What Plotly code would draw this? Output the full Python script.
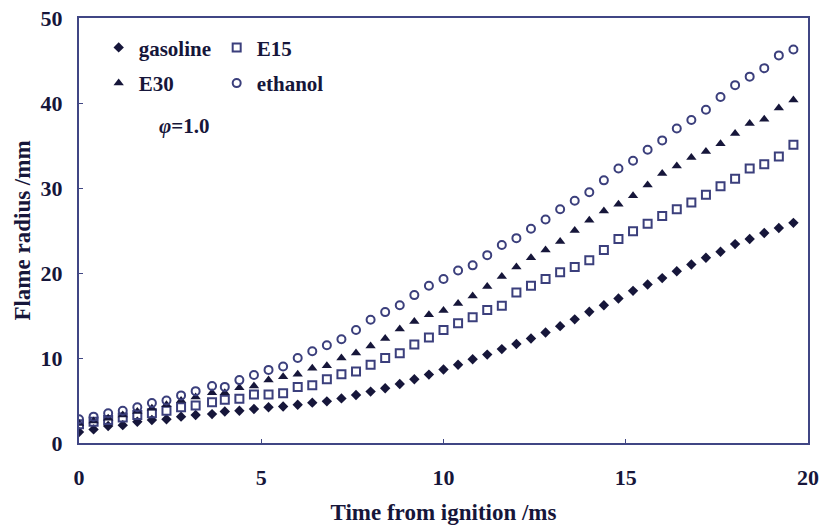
import plotly.graph_objects as go

# ---- data ----
time_ms = [0.0, 0.4, 0.8, 1.2, 1.6, 2.0, 2.4, 2.8, 3.2, 3.65,
           4.0, 4.4, 4.8, 5.2, 5.6, 6.0, 6.4, 6.8, 7.2, 7.6,
           8.0, 8.4, 8.8, 9.2, 9.6, 10.0, 10.4, 10.8, 11.2, 11.6,
           12.0, 12.4, 12.8, 13.2, 13.6, 14.0, 14.4, 14.8, 15.2, 15.6,
           16.0, 16.4, 16.8, 17.2, 17.6, 18.0, 18.4, 18.8, 19.2, 19.6]

gasoline = [1.3, 1.6, 2.0, 2.1, 2.5, 2.7, 2.8, 3.1, 3.3, 3.4,
            3.7, 3.8, 4.0, 4.2, 4.3, 4.5, 4.75, 4.9, 5.25, 5.65,
            6.05, 6.45, 6.95, 7.5, 8.05, 8.65, 9.2, 9.85, 10.4, 11.05,
            11.65, 12.3, 13.0, 13.75, 14.55, 15.45, 16.2, 17.0, 17.9, 18.65,
            19.4, 20.2, 21.0, 21.8, 22.5, 23.4, 24.0, 24.7, 25.3, 25.9]

e15 = [2.2, 2.5, 2.7, 3.0, 3.3, 3.5, 3.8, 4.2, 4.4, 4.8,
       5.1, 5.2, 5.7, 5.7, 5.85, 6.6, 6.8, 7.5, 8.1, 8.4,
       9.2, 10.0, 10.55, 11.6, 12.4, 13.3, 14.1, 14.8, 15.65, 16.15,
       17.7, 18.5, 19.3, 20.1, 20.7, 21.5, 22.7, 24.0, 24.9, 25.8,
       26.7, 27.5, 28.3, 29.2, 30.2, 31.1, 32.3, 32.8, 33.7, 35.1]

e30 = [2.3, 2.6, 2.9, 3.3, 3.7, 4.1, 4.5, 5.0, 5.4, 5.9,
       5.9, 6.5, 6.7, 7.4, 7.8, 8.1, 8.8, 9.1, 10.0, 10.6,
       11.4, 12.3, 13.4, 14.3, 15.1, 15.6, 16.4, 17.3, 18.4, 19.6,
       20.7, 21.8, 22.7, 23.7, 25.0, 26.2, 27.3, 28.1, 29.1, 30.35,
       31.7, 32.6, 33.6, 34.3, 35.2, 36.4, 37.6, 38.1, 39.4, 40.35]

ethanol = [2.8, 3.1, 3.5, 3.8, 4.2, 4.7, 5.0, 5.6, 6.1, 6.7,
           6.6, 7.4, 8.0, 8.6, 9.0, 10.0, 10.8, 11.5, 12.2, 13.3,
           14.5, 15.4, 16.2, 17.4, 18.5, 19.3, 20.3, 20.9, 22.1, 23.3,
           24.1, 25.2, 26.3, 27.5, 28.5, 29.5, 30.9, 32.3, 33.2, 34.5,
           35.6, 37.0, 38.0, 39.2, 40.7, 42.1, 43.1, 44.1, 45.6, 46.3]

x_ticks = [0, 5, 10, 15, 20]
y_ticks = [0, 10, 20, 30, 40, 50]

# ---- styling ----
INK = "#16163a"
OPEN = "#3b3f7c"
AXIS = "#404684"
FONT = "Liberation Serif"

fig = go.Figure()
fig.add_trace(go.Scatter(x=time_ms, y=gasoline, mode="markers", name="gasoline",
                         marker=dict(symbol="diamond", size=8, color=INK, line=dict(width=0)),
                         legend="legend"))
fig.add_trace(go.Scatter(x=time_ms, y=e15, mode="markers", name="E15",
                         marker=dict(symbol="square-open", size=8, color=OPEN, line=dict(width=2)),
                         legend="legend"))
fig.add_trace(go.Scatter(x=time_ms, y=e30, mode="markers", name="E30",
                         marker=dict(symbol="triangle-up", size=9, color=INK, line=dict(width=0)),
                         legend="legend2"))
fig.add_trace(go.Scatter(x=time_ms, y=ethanol, mode="markers", name="ethanol",
                         marker=dict(symbol="circle-open", size=8, color=OPEN, line=dict(width=2)),
                         legend="legend2"))

tickfont = dict(family=FONT, size=22, color=INK, weight="bold")
titlefont = dict(family=FONT, size=23, color=INK, weight="bold")
legfont = dict(family=FONT, size=21, color=INK, weight="bold")

fig.update_layout(
    width=822, height=525,
    margin=dict(l=79, r=14, t=18, b=82),
    paper_bgcolor="white", plot_bgcolor="white",
    showlegend=True,
    legend=dict(x=0.027, y=0.930, xanchor="left", yanchor="middle", orientation="h",
                entrywidth=73, itemwidth=30, font=legfont, bgcolor="rgba(0,0,0,0)",
                traceorder="normal"),
    legend2=dict(x=0.027, y=0.846, xanchor="left", yanchor="middle", orientation="h",
                 entrywidth=73, itemwidth=30, font=legfont, bgcolor="rgba(0,0,0,0)",
                 traceorder="normal"),
    xaxis=dict(range=[0, 20], tickvals=x_ticks, ticks="inside", ticklen=4,
               tickcolor=AXIS, showline=True, linecolor=AXIS, linewidth=2, mirror=True,
               showgrid=False, zeroline=False, tickfont=tickfont, ticklabelstandoff=14,
               automargin=False,
               title=dict(text="Time from ignition /ms", font=titlefont, standoff=16)),
    yaxis=dict(range=[0, 50], tickvals=y_ticks, ticks="inside", ticklen=4,
               tickcolor=AXIS, showline=True, linecolor=AXIS, linewidth=2, mirror=True,
               showgrid=False, zeroline=False, tickfont=tickfont, ticklabelstandoff=10,
               automargin=False,
               title=dict(text="Flame radius /mm", font=titlefont, standoff=4)),
    annotations=[dict(x=0.145, y=0.745, xref="paper", yref="paper", showarrow=False,
                      text="<i>φ</i>=1.0", font=legfont, xanchor="center", yanchor="middle")],
)

fig.write_html("out.html")
